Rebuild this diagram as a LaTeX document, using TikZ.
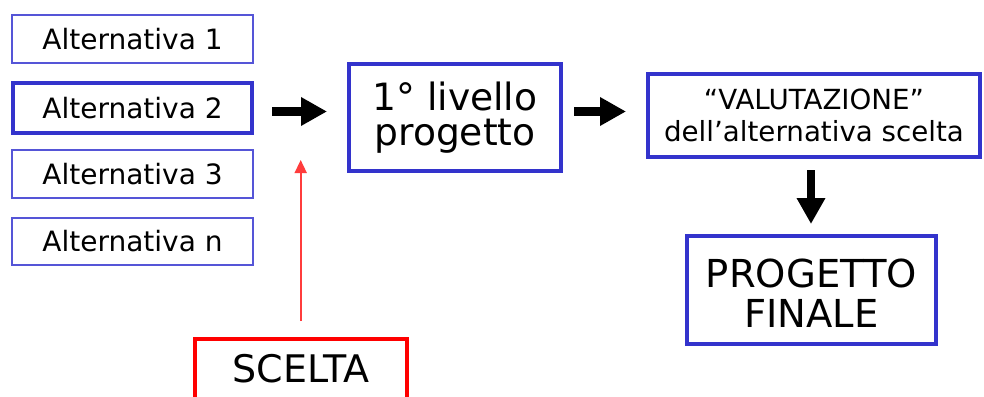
\documentclass[tikz,border=0pt]{standalone}
\usepackage{fontspec}
\setmainfont{DejaVu Sans}
\usetikzlibrary{arrows.meta}
\definecolor{boxblue}{RGB}{51,51,204}
\definecolor{thinblue}{RGB}{85,85,215}
\definecolor{redline}{RGB}{255,0,0}
\definecolor{redarrow}{RGB}{255,60,60}
\tikzset{
  altbox/.style={draw=thinblue, line width=1.3pt, rectangle, inner sep=0pt,
    font=\fontsize{28}{32}\selectfont},
  altsel/.style={draw=boxblue, line width=4pt, rectangle, inner sep=0pt,
    font=\fontsize{28}{32}\selectfont},
  bluebox/.style={draw=boxblue, line width=4pt, rectangle, inner sep=0pt, align=center},
  redbox/.style={draw=redline, line width=4pt, rectangle, inner sep=0pt},
  bigarrow/.style={line width=8.5pt, -{Triangle[length=26pt,width=27pt]}},
  thinarrow/.style={draw=redarrow, line width=1.6pt, -{Triangle[length=13pt,width=12pt]}, redarrow}
}
\begin{document}
\begin{tikzpicture}[x=1pt,y=-1pt]
\useasboundingbox (0,0) rectangle (984,396);
\clip (0,0) rectangle (984,396);
\fill[white] (0,0) rectangle (984,396);

\node[altbox, minimum width=241pt, minimum height=48pt] (alt1) at (132.5,39) {Alternativa 1};
\node[altsel, minimum width=239pt, minimum height=50pt] (alt2) at (132.5,108) {Alternativa 2};
\node[altbox, minimum width=241pt, minimum height=48pt] (alt3) at (132.5,174) {Alternativa 3};
\node[altbox, minimum width=241pt, minimum height=47pt] (altn) at (132.5,241.5) {Alternativa n};

\node[bluebox, minimum width=212pt, minimum height=107pt,
  font=\fontsize{37.6}{34.5}\selectfont] (liv) at (455,117.5) {1° livello\\progetto};

\node[bluebox, minimum width=332pt, minimum height=83pt,
  font=\fontsize{27.7}{32}\selectfont] (val) at (814,115.5) {“VALUTAZIONE”\\dell’alternativa scelta};

\node[bluebox, minimum width=249pt, minimum height=108pt,
  font=\fontsize{38.5}{40}\selectfont] (fin) at (811.5,290) {\rule{0pt}{34.5pt}PROGETTO\\FINALE};

\node[redbox, minimum width=212pt, minimum height=60pt,
  font=\fontsize{38}{40}\selectfont] (scelta) at (301,369) {SCELTA};

\draw[bigarrow] ([shift={(18,3.5)}]alt2.east) -- ([shift={(-20,-6)}]liv.west);
\draw[bigarrow] ([shift={(11,-6)}]liv.east) -- ([shift={(-20,-4)}]val.west);
\draw[bigarrow] ([shift={(-3,11)}]val.south) -- ([shift={(-0.5,-10)}]fin.north);

\coordinate (redtip) at (300.7,160);
\draw[thinarrow] ([shift={(-0.3,-16)}]scelta.north) -- (redtip);
\end{tikzpicture}
\end{document}
